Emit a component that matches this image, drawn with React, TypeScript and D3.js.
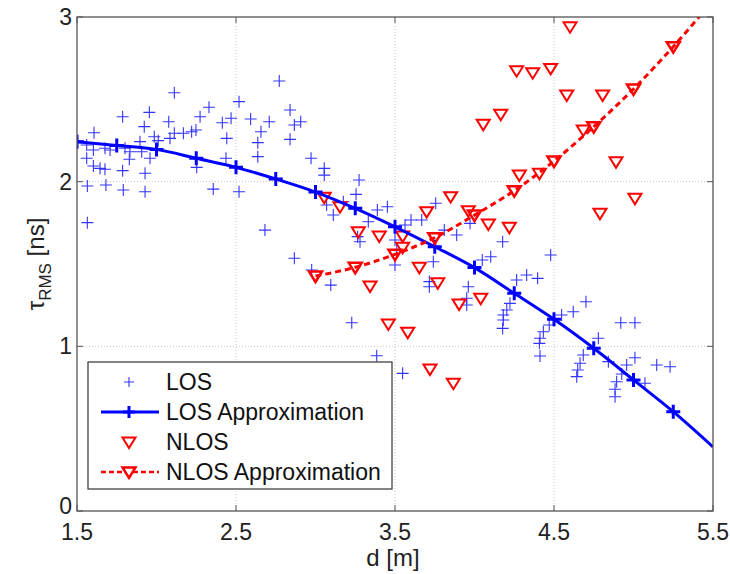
import React from "react";
import * as d3 from "d3";

// LOS scatter: distance [m], tau_RMS [ns]
const losD = [2.112,2.772,2.519,2.330,1.787,1.955,2.840,2.274,2.469,2.592,2.414,2.709,2.907,2.867,2.077,1.923,1.607,2.248,2.657,2.112,2.169,2.221,2.840,2.442,1.986,2.011,2.085,1.896,2.637,1.561,1.603,1.676,1.708,1.802,1.833,1.907,1.561,1.829,1.959,2.637,2.437,2.972,1.603,1.645,1.676,1.787,2.253,3.055,3.055,1.928,1.565,1.682,1.791,1.928,2.357,2.519,1.565,2.682,3.070,3.112,2.867,2.976,
3.274,3.255,3.175,3.452,3.389,3.332,3.265,3.280,3.756,3.601,3.668,3.563,3.500,3.511,3.500,3.096,3.228,3.385,3.548,3.741,3.716,3.716,3.810,3.888,3.972,4.177,4.049,4.102,3.961,3.951,3.951,4.265,4.328,4.223,4.203,4.181,4.181,4.177,
4.479,4.397,4.701,4.621,4.548,4.470,4.433,4.412,4.408,4.412,4.779,4.920,5.009,4.684,4.664,4.649,4.643,4.842,5.009,4.957,4.926,4.894,4.884,4.884,5.072,5.146,5.230];
const losT = [2.540,2.611,2.486,2.452,2.394,2.421,2.435,2.394,2.385,2.381,2.358,2.364,2.364,2.344,2.364,2.334,2.297,2.314,2.303,2.294,2.294,2.303,2.257,2.263,2.273,2.249,2.263,2.243,2.237,2.223,2.192,2.203,2.192,2.203,2.182,2.182,2.142,2.136,2.142,2.152,2.142,2.142,2.095,2.081,2.075,2.067,2.087,2.081,2.040,2.051,1.974,1.980,1.949,1.939,1.955,1.939,1.751,1.706,1.858,1.798,1.535,1.464,
2.010,1.923,1.878,1.848,1.828,1.757,1.666,1.635,1.869,1.767,1.767,1.737,1.646,1.585,1.494,1.372,1.143,0.943,0.836,1.514,1.393,1.362,1.706,1.676,1.747,1.635,1.524,1.544,1.362,1.292,1.251,1.403,1.433,1.261,1.221,1.190,1.160,1.109,
1.555,1.413,1.271,1.210,1.190,1.130,1.089,1.049,1.018,0.941,1.049,1.143,1.143,0.947,0.897,0.856,0.816,0.907,0.931,0.887,0.832,0.785,0.739,0.694,0.776,0.887,0.876];

// NLOS scatter
const nlosD = [3.055,3.154,3.269,3.401,3.548,3.548,3.699,3.850,3.961,4.087,4.219,4.282,3.653,3.769,3.343,3.903,4.039,3.458,3.580,3.720,3.867,4.601,4.265,4.366,4.479,4.580,4.806,4.055,4.165,4.684,4.890,4.408,5.009,4.789];
const nlosT = [1.905,1.848,1.696,1.670,1.670,1.601,1.818,1.909,1.824,1.743,1.723,2.040,1.480,1.386,1.366,1.257,1.292,1.136,1.085,0.862,0.776,2.941,2.674,2.662,2.688,2.526,2.526,2.348,2.409,2.314,2.121,2.051,1.899,1.808];

// LOS approximation
const losApproxD = [1.5,1.75,2.0,2.25,2.5,2.75,3.0,3.25,3.5,3.75,4.0,4.25,4.5,4.75,5.0,5.25,5.5];
const losApproxT = [2.243,2.22,2.196,2.142,2.087,2.016,1.937,1.838,1.726,1.605,1.478,1.322,1.164,0.988,0.796,0.603,0.389];

// NLOS approximation
const nlosApproxD = [3.0,3.25,3.5,3.75,4.0,4.25,4.5,4.75,5.0,5.25,5.5];
const nlosApproxT = [1.427,1.48,1.559,1.66,1.797,1.945,2.125,2.334,2.563,2.82,3.1];

const xTicks = [1.5, 2.5, 3.5, 4.5, 5.5];
const yTicks = [0, 1, 2, 3];
const legendLabels = ["LOS", "LOS Approximation", "NLOS", "NLOS Approximation"];

const W = 730, H = 574;
const L = 77, R = 713, T = 17, B = 511;
const FONT = "'Liberation Sans', Arial, Helvetica, sans-serif";

const plusPath = (s: number) => `M${-s},0H${s}M0,${-s}V${s}`;
const triPath = "M-6.5,-4.5L6.5,-4.5L0,6Z";

export default function App() {
  const x = d3.scaleLinear().domain([1.5, 5.5]).range([L, R]);
  const y = d3.scaleLinear().domain([0, 3]).range([B, T]);
  const line = d3.line<[number, number]>().x((d) => x(d[0])).y((d) => y(d[1])).curve(d3.curveMonotoneX);
  const losLine = losApproxD.map((d, i) => [d, losApproxT[i]] as [number, number]);
  const nlosLine = nlosApproxD.map((d, i) => [d, nlosApproxT[i]] as [number, number]);

  const legRows = [382, 412, 442, 472];

  return (
    <svg width={W} height={H} style={{ position: "absolute", left: 0, top: 0, background: "#fff" }} fontFamily={FONT}>
      <defs>
        <clipPath id="plotclip">
          <rect x={L} y={T} width={R - L} height={B - T} />
        </clipPath>
      </defs>
      <rect x={0} y={0} width={W} height={H} fill="#fff" />
      {xTicks.slice(1, -1).map((t) => (
        <line key={"gx" + t} x1={x(t)} x2={x(t)} y1={T} y2={B} stroke="#c8c8c8" strokeDasharray="1,2" />
      ))}
      {yTicks.slice(1, -1).map((t) => (
        <line key={"gy" + t} x1={L} x2={R} y1={y(t)} y2={y(t)} stroke="#c8c8c8" strokeDasharray="1,2" />
      ))}
      <g clipPath="url(#plotclip)">
        {losD.map((d, i) => (
          <path key={"l" + i} d={plusPath(6)} transform={`translate(${x(d)},${y(losT[i])})`} stroke="#3434ff" strokeWidth={1.1} fill="none" />
        ))}
        {nlosD.map((d, i) => (
          <path key={"n" + i} d={triPath} transform={`translate(${x(d)},${y(nlosT[i])})`} stroke="#ff0000" strokeWidth={2} fill="none" />
        ))}
        <path d={line(losLine) || ""} stroke="#0000ff" strokeWidth={3} fill="none" />
        {losLine.slice(0, -1).map((p, i) => (
          <path key={"la" + i} d={plusPath(7)} transform={`translate(${x(p[0])},${y(p[1])})`} stroke="#0000ff" strokeWidth={3} fill="none" />
        ))}
        <path d={line(nlosLine) || ""} stroke="#ff0000" strokeWidth={3} fill="none" strokeDasharray="6,4" />
        {nlosLine.slice(0, -1).map((p, i) => (
          <path key={"na" + i} d={triPath} transform={`translate(${x(p[0])},${y(p[1])})`} stroke="#ff0000" strokeWidth={2.5} fill="none" />
        ))}
      </g>
      <rect x={L} y={T} width={R - L} height={B - T} fill="none" stroke="#555" strokeWidth={1.3} />
      {xTicks.map((t) => (
        <g key={"xt" + t}>
          <line x1={x(t)} x2={x(t)} y1={B} y2={B - 6} stroke="#555" />
          <line x1={x(t)} x2={x(t)} y1={T} y2={T + 6} stroke="#555" />
          <text x={x(t)} y={540} textAnchor="middle" fontSize={23} fill="#222">{t.toFixed(1)}</text>
        </g>
      ))}
      {yTicks.map((t) => (
        <g key={"yt" + t}>
          <line x1={L} x2={L + 6} y1={y(t)} y2={y(t)} stroke="#555" />
          <line x1={R} x2={R - 6} y1={y(t)} y2={y(t)} stroke="#555" />
          <text x={72} y={y(t) + (t === 0 ? 3 : 8)} textAnchor="end" fontSize={23} fill="#222">{t}</text>
        </g>
      ))}
      <text x={(L + R) / 2 - 2} y={566} textAnchor="middle" fontSize={24} fill="#222">d [m]</text>
      <text transform={`translate(44,${(T + B) / 2}) rotate(-90)`} textAnchor="middle" fontSize={24} fill="#222">
        τ<tspan fontSize={17} dy={7}>RMS</tspan><tspan dy={-7}> [ns]</tspan>
      </text>
      <rect x={88} y={362} width={304} height={127} fill="#fff" stroke="#333" strokeWidth={1.2} />
      <path d={plusPath(5)} transform={`translate(129,${legRows[0]})`} stroke="#3434ff" strokeWidth={1.1} fill="none" />
      <line x1={101} x2={159} y1={legRows[1]} y2={legRows[1]} stroke="#0000ff" strokeWidth={3} />
      <path d={plusPath(6)} transform={`translate(129,${legRows[1]})`} stroke="#0000ff" strokeWidth={3} fill="none" />
      <path d={triPath} transform={`translate(129,${legRows[2]})`} stroke="#ff0000" strokeWidth={2} fill="none" />
      <line x1={101} x2={159} y1={legRows[3]} y2={legRows[3]} stroke="#ff0000" strokeWidth={2.5} strokeDasharray="5,3" />
      <path d={triPath} transform={`translate(129,${legRows[3]})`} stroke="#ff0000" strokeWidth={2.5} fill="#fff" />
      {legendLabels.map((s, i) => (
        <text key={s} x={166} y={legRows[i] + 8} fontSize={23} fill="#111">{s}</text>
      ))}
    </svg>
  );
}
